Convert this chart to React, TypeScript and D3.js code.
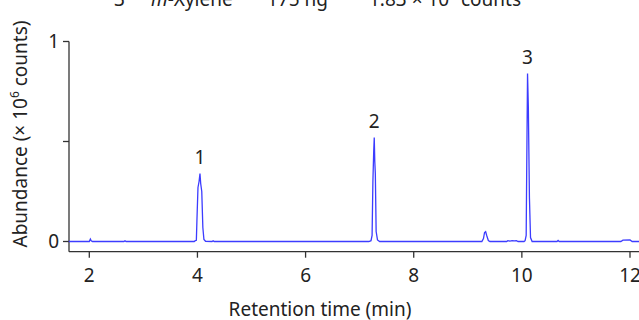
import { useEffect, useRef } from 'react'
import * as d3 from 'd3'

// chromatogram trace (min, x10^6 counts)
const retentionTime = [
  1.62, 2.0, 2.02, 2.035, 2.06, 2.64, 2.66, 2.68,
  3.94, 3.96, 3.98, 3.99, 4.01, 4.03, 4.047, 4.06, 4.08, 4.1, 4.12, 4.15,
  4.27, 4.29, 4.31,
  7.17, 7.21, 7.23, 7.245, 7.26, 7.27, 7.28, 7.29, 7.305, 7.33, 7.37,
  9.26, 9.29, 9.31, 9.33, 9.35, 9.38, 9.41,
  9.72, 9.74, 9.78, 9.82, 9.86, 9.9, 9.93,
  10.04, 10.06, 10.08, 10.09, 10.105, 10.12, 10.14, 10.16, 10.19,
  10.65, 10.67, 10.69,
  11.83, 11.87, 12.0, 12.04, 12.2,
]
const abundance = [
  0, 0, 0.012, 0.004, 0, 0, 0.004, 0,
  0, 0.004, 0.006, 0.1, 0.27, 0.3, 0.34, 0.29, 0.25, 0.07, 0.01, 0.001,
  0, 0.004, 0,
  0, 0.004, 0.03, 0.3, 0.45, 0.52, 0.4, 0.34, 0.05, 0.008, 0,
  0, 0.015, 0.045, 0.049, 0.03, 0.005, 0,
  0, 0.004, 0.002, 0.004, 0.003, 0.004, 0,
  0, 0.004, 0.03, 0.37, 0.84, 0.67, 0.22, 0.02, 0,
  0, 0.005, 0,
  0, 0.007, 0.008, 0, 0,
]

const peakLabels = ['1', '2', '3']
const peakTimes = [4.047, 7.27, 10.105]
const peakHeights = [0.34, 0.52, 0.84]

const xTicks = [2, 4, 6, 8, 10, 12]
const yTicks = [0, 0.5, 1]
const yTickLabels = ['0', '', '1']

// header row, cut off at the top of the picture
const headerTexts = ['3', 'm', '-Xylene', '175 ng', '1.83 × 10', '6', ' counts']

const W = 639
const H = 320
const FONT = '"Noto Sans", sans-serif'
const AXIS = '#333'
const LINE = '#3c3cff'

export default function App() {
  const svgRef = useRef<SVGSVGElement>(null)

  useEffect(() => {
    document.body.style.margin = '0'
    if (!svgRef.current) return
    const svg = d3.select(svgRef.current)
    svg.selectAll('*').remove()

    const axisLeftX = 69
    const axisBottomY = 251.7

    const x = d3.scaleLinear().domain([2, 12]).range([89.3, 630])
    const y = d3.scaleLinear().domain([0, 1]).range([241.5, 41.5])

    // header (mostly outside the frame)
    const hdr = svg.append('text')
      .attr('y', 6)
      .attr('font-family', FONT)
      .attr('font-size', 19)
      .attr('fill', '#222')
    hdr.append('tspan').attr('x', 114).text(headerTexts[0])
    hdr.append('tspan').attr('x', 151).attr('font-style', 'italic').text(headerTexts[1])
    hdr.append('tspan').text(headerTexts[2])
    hdr.append('tspan').attr('x', 267).text(headerTexts[3])
    hdr.append('tspan').attr('x', 369).text(headerTexts[4])
    hdr.append('tspan').attr('dy', -8).attr('font-size', 12).text(headerTexts[5])
    hdr.append('tspan').attr('dy', 8).text(headerTexts[6])

    // y axis
    svg.append('line')
      .attr('x1', axisLeftX).attr('x2', axisLeftX)
      .attr('y1', y(1)).attr('y2', axisBottomY)
      .attr('stroke', AXIS).attr('stroke-width', 1.3)
    const yt = svg.append('g')
    yt.selectAll('line').data(yTicks).enter().append('line')
      .attr('x1', axisLeftX - 6).attr('x2', axisLeftX)
      .attr('y1', d => y(d)).attr('y2', d => y(d))
      .attr('stroke', AXIS).attr('stroke-width', 1.3)
    yt.selectAll('text').data(yTicks).enter().append('text')
      .attr('x', axisLeftX - 10)
      .attr('y', d => y(d))
      .attr('dy', '0.35em')
      .attr('text-anchor', 'end')
      .attr('font-family', FONT).attr('font-size', 19)
      .attr('fill', '#222')
      .text((_, i) => yTickLabels[i])

    // x axis
    svg.append('line')
      .attr('x1', axisLeftX).attr('x2', W + 10)
      .attr('y1', axisBottomY).attr('y2', axisBottomY)
      .attr('stroke', AXIS).attr('stroke-width', 1.3)
    const xt = svg.append('g')
    xt.selectAll('line').data(xTicks).enter().append('line')
      .attr('x1', d => x(d)).attr('x2', d => x(d))
      .attr('y1', axisBottomY).attr('y2', axisBottomY + 6)
      .attr('stroke', AXIS).attr('stroke-width', 1.3)
    xt.selectAll('text').data(xTicks).enter().append('text')
      .attr('x', d => x(d))
      .attr('y', 282)
      .attr('text-anchor', 'middle')
      .attr('font-family', FONT).attr('font-size', 19)
      .attr('fill', '#222')
      .text(d => String(d))

    // axis titles
    svg.append('text')
      .attr('x', 320).attr('y', 316)
      .attr('text-anchor', 'middle')
      .attr('font-family', FONT).attr('font-size', 19)
      .attr('fill', '#222')
      .text('Retention time (min)')

    const yTitle = svg.append('text')
      .attr('transform', 'translate(27,134) rotate(-90)')
      .attr('text-anchor', 'middle')
      .attr('font-family', FONT).attr('font-size', 19)
      .attr('fill', '#222')
    yTitle.append('tspan').text('Abundance (× 10')
    yTitle.append('tspan').attr('dy', -8).attr('font-size', 12).text('6')
    yTitle.append('tspan').attr('dy', 8).text(' counts)')

    // trace
    const pts = retentionTime.map((t, i) => [t, abundance[i]] as [number, number])
    const line = d3.line<[number, number]>()
      .x(d => x(d[0]))
      .y(d => y(d[1]))
    svg.append('path')
      .datum(pts)
      .attr('d', line)
      .attr('fill', 'none')
      .attr('stroke', LINE)
      .attr('stroke-width', 1.3)

    // peak numbers
    svg.selectAll('text.peak').data(peakLabels).enter().append('text')
      .attr('class', 'peak')
      .attr('x', (_, i) => x(peakTimes[i]))
      .attr('y', (_, i) => y(peakHeights[i]) - 10)
      .attr('text-anchor', 'middle')
      .attr('font-family', FONT).attr('font-size', 19)
      .attr('fill', '#222')
      .text(d => d)
  }, [])

  return (
    <svg
      ref={svgRef}
      width={W}
      height={H}
      style={{ display: 'block', background: '#fff' }}
    />
  )
}
